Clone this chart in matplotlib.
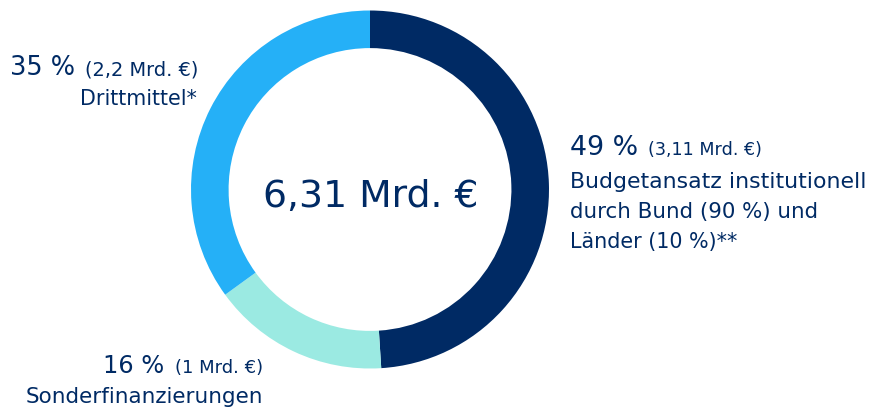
import matplotlib
matplotlib.use("Agg")
import matplotlib.pyplot as plt

# Data
categories = ["Budgetansatz institutionell", "Sonderfinanzierungen", "Drittmittel"]
shares = [49, 16, 35]
amounts = ["3,11", "1", "2,2"]
total_label = "6,31 Mrd. €"
colors = ["#002A64", "#9BEAE2", "#25B0F7"]
text_color = "#002A64"

W, H = 873, 409
fig = plt.figure(figsize=(W / 100, H / 100), dpi=100)
plt.rcParams['font.family'] = ['DejaVu Sans']

cx, cy, r = 370, 189.5, 179
ax = fig.add_axes([(cx - r) / W, (H - cy - r) / H, 2 * r / W, 2 * r / H])
ax.pie(shares, colors=colors, startangle=90, counterclock=False, radius=1,
       wedgeprops=dict(width=0.21, edgecolor="none"))
ax.set_xlim(-1, 1)
ax.set_ylim(-1, 1)
ax.set_aspect('equal')
ax.axis('off')

renderer = fig.canvas.get_renderer()

def t(x0, x1, y, s, size):
    """Place text between pixel x0..x1 at baseline y, fitting width."""
    txt = fig.text(x0 / W, 1 - y / H, s, fontsize=size, color=text_color,
                   ha='left', va='baseline')
    for _ in range(3):
        w = txt.get_window_extent(renderer).width
        size = size * (x1 - x0) / w
        txt.set_fontsize(size)
    return txt

# center
t(263, 478, 207, total_label, 30)

# left label (Drittmittel)
t(10, 75, 75, f"{shares[2]} %", 18)
t(85, 198, 75, f"({amounts[2]} Mrd. €)", 12)
t(80, 197, 105, "Drittmittel*", 15)

# right label (Budget)
t(570, 638, 155, f"{shares[0]} %", 18)
t(648, 762, 155, f"({amounts[0]} Mrd. €)", 12)
t(570, 866, 188, "Budgetansatz institutionell", 15)
t(570, 818, 218, "durch Bund (90 %) und", 15)
t(570, 737, 248, "Länder (10 %)**", 15)

# bottom label (Sonderfinanzierungen)
t(103, 164, 373, f"{shares[1]} %", 18)
t(175, 263, 373, f"({amounts[1]} Mrd. €)", 12)
t(26, 265, 403, "Sonderfinanzierungen", 15)

fig.savefig("out.png", dpi=100, facecolor="white")
